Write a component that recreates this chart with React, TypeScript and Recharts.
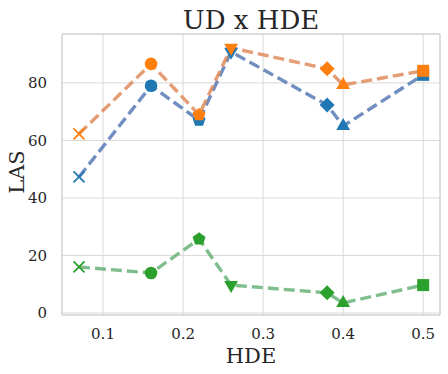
import { LineChart, Line, XAxis, YAxis, CartesianGrid, ReferenceArea } from 'recharts';

const hde = [0.07, 0.16, 0.22, 0.26, 0.38, 0.4, 0.5];
const blueLas = [47.3, 79, 67, 90.8, 72.3, 65, 82.8];
const orangeLas = [62.3, 86.6, 68.9, 92.2, 84.9, 79.3, 84.2];
const greenLas = [16, 13.9, 25.7, 9.7, 7, 3.5, 9.7];
const markers = ['x', 'o', 'p', 'v', 'D', '^', 's'];
const xTicks = [0.1, 0.2, 0.3, 0.4, 0.5];
const yTicks = [0, 20, 40, 60, 80];

const rows = hde.map((x, i) => ({ x, blue: blueLas[i], orange: orangeLas[i], green: greenLas[i] }));

const poly = (cx: number, cy: number, r: number, n: number, rot: number) =>
  Array.from({ length: n }, (_, k) => {
    const a = rot + (k * 2 * Math.PI) / n;
    return `${cx + r * Math.cos(a)},${cy + r * Math.sin(a)}`;
  }).join(' ');

const makeDot = (color: string) => (props: any) => {
  const { cx, cy, index } = props;
  const m = markers[index];
  const key = `d-${color}-${index}`;
  if (m === 'x')
    return (
      <g key={key} stroke={color} strokeWidth={1.8}>
        <line x1={cx - 5.5} y1={cy - 5.5} x2={cx + 5.5} y2={cy + 5.5} />
        <line x1={cx - 5.5} y1={cy + 5.5} x2={cx + 5.5} y2={cy - 5.5} />
      </g>
    );
  if (m === 'o') return <circle key={key} cx={cx} cy={cy} r={6.3} fill={color} />;
  if (m === 'p') return <polygon key={key} points={poly(cx, cy, 6.8, 5, -Math.PI / 2)} fill={color} />;
  if (m === 'v') return <polygon key={key} points={poly(cx, cy, 8, 3, Math.PI / 2)} fill={color} />;
  if (m === '^') return <polygon key={key} points={poly(cx, cy, 8, 3, -Math.PI / 2)} fill={color} />;
  if (m === 'D') return <polygon key={key} points={poly(cx, cy, 7.5, 4, 0)} fill={color} />;
  return <rect key={key} x={cx - 6} y={cy - 6} width={12} height={12} fill={color} />;
};

const font = 'DejaVu Serif, serif';
const textColor = '#262626';

export default function App() {
  return (
    <div style={{ position: 'fixed', left: 0, top: 0, width: 448, height: 374, background: '#fff' }}>
      <LineChart width={448} height={374} data={rows} margin={{ top: 34, right: 8, left: 0, bottom: 0 }}>
        <CartesianGrid stroke="#d9d9d9" strokeWidth={1} />
        <XAxis
          dataKey="x"
          type="number"
          domain={[0.04875, 0.521]}
          ticks={xTicks}
          tickFormatter={(v: number) => v.toFixed(1)}
          tickLine={false}
          axisLine={false}
          height={59}
          tick={{ fontFamily: font, fontSize: 15, fill: textColor }}
          tickMargin={7}
        />
        <YAxis
          type="number"
          domain={[-0.7, 97]}
          ticks={yTicks}
          tickLine={false}
          axisLine={false}
          width={62}
          tick={{ fontFamily: font, fontSize: 15, fill: textColor }}
          tickMargin={9}
        />
        <ReferenceArea x1={0.04875} x2={0.521} y1={-0.7} y2={97} fill="none" stroke="#cfcfcf" strokeWidth={1} />
        <Line
          dataKey="blue"
          stroke="#4c72b0"
          strokeOpacity={0.8}
          strokeWidth={3.4}
          strokeDasharray="11 5"
          dot={makeDot('#1f77b4')}
          isAnimationActive={false}
        />
        <Line
          dataKey="orange"
          stroke="#dd8452"
          strokeOpacity={0.8}
          strokeWidth={3.4}
          strokeDasharray="11 5"
          dot={makeDot('#ff7f0e')}
          isAnimationActive={false}
        />
        <Line
          dataKey="green"
          stroke="#55a868"
          strokeOpacity={0.75}
          strokeWidth={3.4}
          strokeDasharray="11 5"
          dot={makeDot('#2ca02c')}
          isAnimationActive={false}
        />
      </LineChart>
      <svg
        width={448}
        height={374}
        style={{ position: 'absolute', left: 0, top: 0, pointerEvents: 'none' }}
        fontFamily={font}
        fill={textColor}
      >
        <text x={251} y={29} textAnchor="middle" fontSize={26}>
          UD x HDE
        </text>
        <text x={251} y={363} textAnchor="middle" fontSize={21}>
          HDE
        </text>
        <text x={24} y={172} textAnchor="middle" fontSize={21} transform="rotate(-90 24 172)">
          LAS
        </text>
      </svg>
    </div>
  );
}
